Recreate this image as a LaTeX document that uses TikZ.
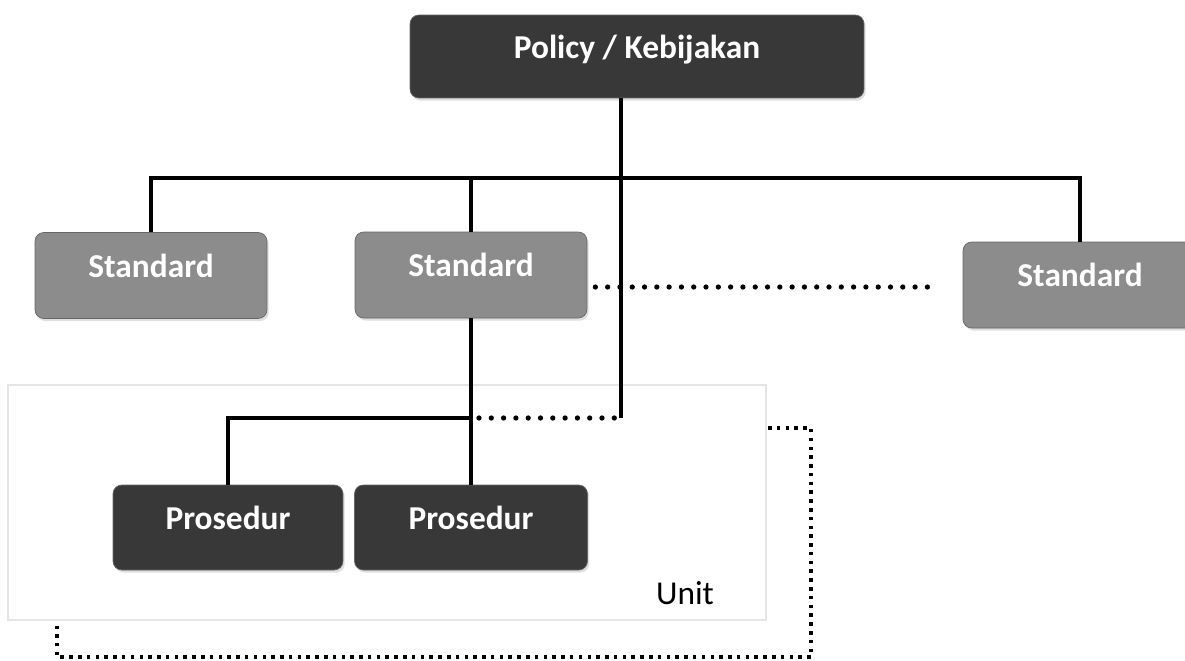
\documentclass[tikz,border=0pt]{standalone}
\usepackage{fontspec}
\setmainfont{Carlito}
\usepackage{tikz}
\usetikzlibrary{positioning,calc,shadows}
\colorlet{darkGray}{black!78}
\colorlet{midGray}{black!45}
\colorlet{unitGray}{black!10}
\tikzset{
  box/.style={draw=black!60, rounded corners=5pt, text=white, font=\fontsize{19}{21}\selectfont\bfseries,
    text height=12pt, text depth=10pt,
    drop shadow={opacity=0.25, shadow xshift=1pt, shadow yshift=-1.5pt}},
  link/.style={line width=2pt},
  dotline/.style={line width=3pt, line cap=round, dash pattern=on 0pt off 7pt},
  framedots/.style={line width=2.2pt, dash pattern=on 2pt off 3pt}
}

\begin{document}
\begin{tikzpicture}[x=0.02cm, y=-0.02cm]
        \useasboundingbox (0,0) rectangle (1185,660);
        % unit frame
        \node[draw=unitGray, line width=1.2pt, minimum width=15.16cm, minimum height=4.7cm] (unit) at (387,502.5) {};
        \node[font=\fontsize{19}{21}\selectfont, anchor=base] (unitlbl) at (685,604) {Unit};

        \node[box, fill=darkGray, minimum width=9.08cm, minimum height=1.66cm] (pol) at (637,56.5)
          {Policy / Kebijakan};
        \node[box, fill=midGray, minimum width=4.64cm, minimum height=1.72cm] (std1) at (151,275.5)
          {Standard};
        \node[box, fill=midGray, minimum width=4.64cm, minimum height=1.72cm] (std2) at (471,275)
          {Standard};
        \node[box, fill=midGray, minimum width=4.68cm, minimum height=1.72cm] (std3) at (1080,285)
          {Standard};
        \node[box, fill=darkGray, minimum width=4.6cm, minimum height=1.7cm] (pro1) at (228,527.5)
          {Prosedur};
        \node[box, fill=darkGray, minimum width=4.66cm, minimum height=1.7cm] (pro2) at (471,527.5)
          {Prosedur};

        \coordinate (bus) at (600,178);
        \coordinate (trunk) at (621,418);

        \draw[link] (std1.north) |- (bus) -| (std3.north);
        \draw[link] (std2.north) -- (std2.north |- bus);
        \draw[link] (pol.south -| trunk) -- (trunk);
        \draw[link] (std2.south) -- (pro2.north);
        \draw[link] (std2.south |- trunk) -| (pro1.north);

        \draw[dotline] ($(std2.south |- trunk)+(8,0)$) -- (trunk);
        \draw[dotline] ($(std2.east |- 0,287)+(8,0)$) -- ($(std3.west |- 0,287)+(-26,0)$);
        % outer dotted frame
        \draw[framedots] (768,428) -- (811,428) -- (811,657) -- (57,657) -- (57,626);
    \end{tikzpicture}
\end{document}
